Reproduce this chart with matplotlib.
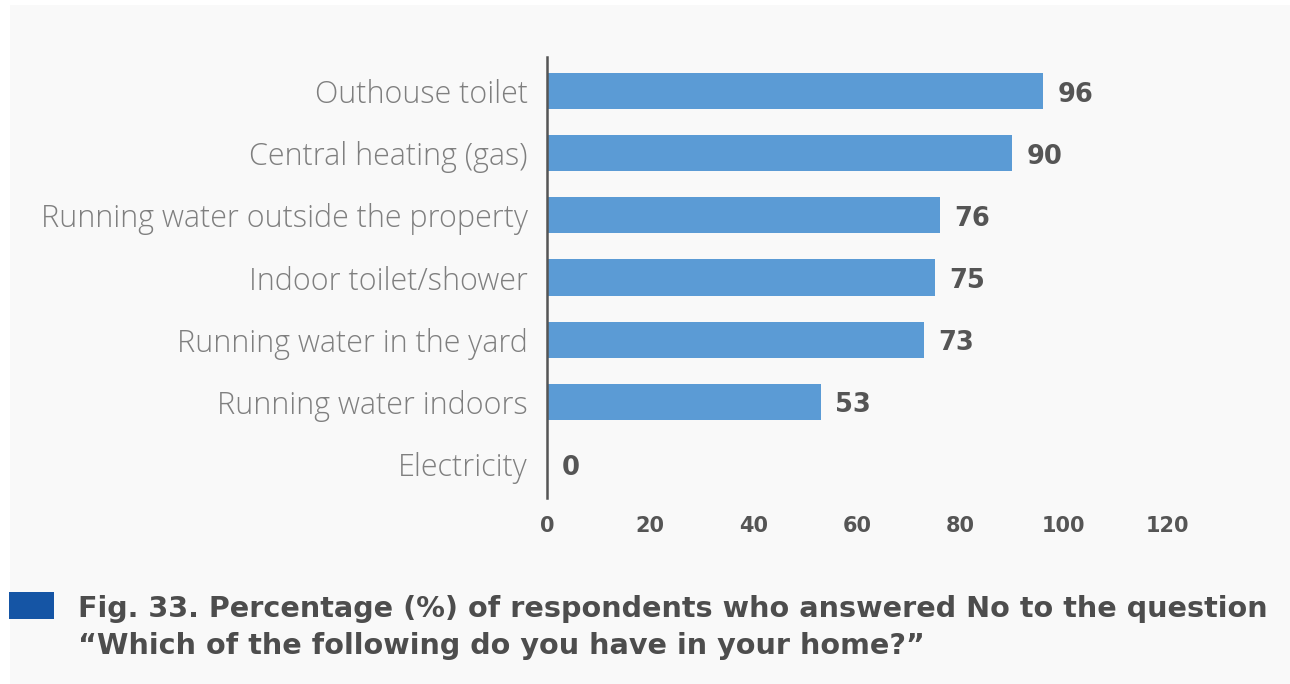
import matplotlib.pyplot as plt
import matplotlib.transforms as mtransforms
from matplotlib.patches import Rectangle

categories = ["Outhouse toilet", "Central heating (gas)", "Running water outside the property",
              "Indoor toilet/shower", "Running water in the yard", "Running water indoors", "Electricity"]
values = [96, 90, 76, 75, 73, 53, 0]
xticks = [0, 20, 40, 60, 80, 100, 120]

fig = plt.figure(figsize=(12.9, 6.84), dpi=100, facecolor="white")
fig.patches.append(Rectangle((10 / 1290, 0), 1280 / 1290, 679 / 684, transform=fig.transFigure,
                             facecolor="#f9f9f9", edgecolor="none", zorder=-10))

ax = fig.add_axes([547 / 1290, 1 - 498 / 684, 620 / 1290, 441 / 684])
ax.set_facecolor("none")

y = list(range(len(categories)))
ax.barh(y, values, height=0.58, color="#5b9bd5")
for yi, v in zip(y, values):
    ax.text(v + 2.8, yi + 0.06, str(v), va="center", ha="left", fontsize=18.5,
            fontweight="bold", color="#555555", family="DejaVu Sans")

ax.set_ylim(len(categories) - 0.45, -0.55)
ax.set_xlim(0, 120)
ax.set_yticks(y)
ax.set_yticklabels(categories, fontsize=22, color="#7f7f7f", family="Open Sans", fontweight=300)
# nudge category labels up a little, as in the original
up = mtransforms.ScaledTranslation(0, 3 / 100, fig.dpi_scale_trans)
for lab in ax.get_yticklabels():
    lab.set_transform(lab.get_transform() + up)
ax.set_xticks(xticks)
ax.set_xticklabels([str(t) for t in xticks], fontsize=15, fontweight="bold", color="#555555",
                   family="DejaVu Sans")
ax.tick_params(axis="y", length=0, pad=14)
ax.tick_params(axis="x", length=0, pad=13)
for s in ["top", "right", "bottom"]:
    ax.spines[s].set_visible(False)
ax.spines["left"].set_color("#555555")
ax.spines["left"].set_linewidth(1.8)

fig.patches.append(Rectangle((9 / 1290, 1 - 619 / 684), 45 / 1290, 27 / 684, transform=fig.transFigure,
                             facecolor="#1555a5", edgecolor="none"))
fig.text(78 / 1290, 1 - 617 / 684, "Fig. 33. Percentage (%) of respondents who answered No to the question",
         fontsize=20.6, fontweight="bold", color="#4d4d4d", va="baseline", family="DejaVu Sans")
fig.text(78 / 1290, 1 - 654 / 684, "\u201cWhich of the following do you have in your home?\u201d",
         fontsize=20.6, fontweight="bold", color="#4d4d4d", va="baseline", family="DejaVu Sans")

fig.savefig("out.png", dpi=100, facecolor="white")
